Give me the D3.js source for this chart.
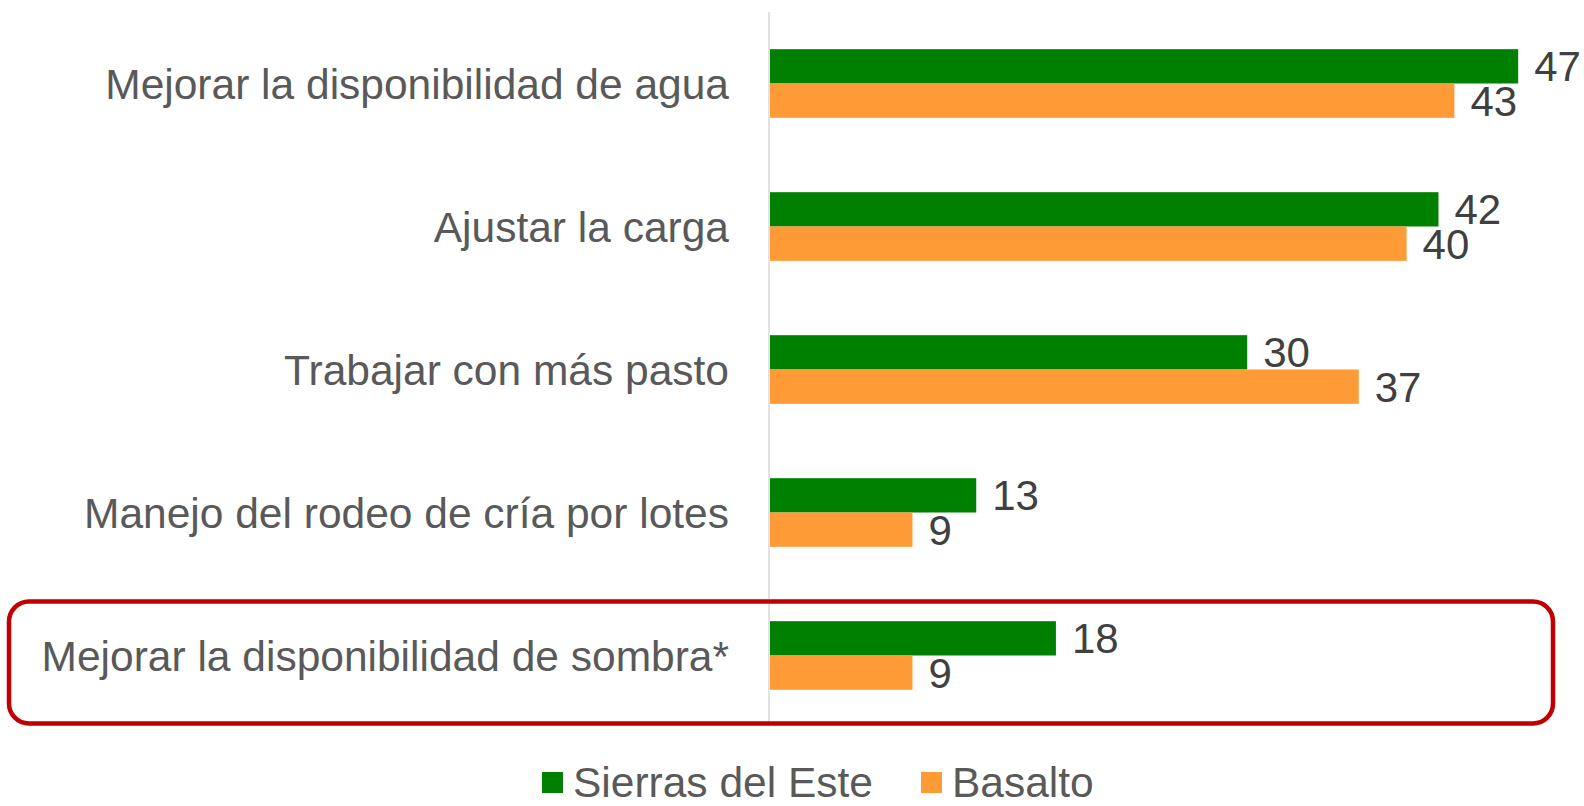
<!DOCTYPE html>
<html>
<head>
<meta charset="utf-8">
<script src="https://cdn.jsdelivr.net/npm/d3@7"></script>
<style>
  html, body { margin: 0; padding: 0; background: #fff; }
  svg { display: block; font-family: Arial, "Liberation Sans", sans-serif; }
</style>
</head>
<body>
<svg id="chart" width="1584" height="806"></svg>
<script>
const categories = [
  "Mejorar la disponibilidad de agua",
  "Ajustar la carga",
  "Trabajar con más pasto",
  "Manejo del rodeo de cría por lotes",
  "Mejorar la disponibilidad de sombra*"
];
const seriesNames = ["Sierras del Este", "Basalto"];
const sierrasValues = [47, 42, 30, 13, 18];
const basaltoValues = [43, 40, 37, 9, 9];
const colors = ["#008000", "#FF9B36"];
const highlighted = "Mejorar la disponibilidad de sombra*";

const svg = d3.select("#chart");
const FONT = 'Arial, "Liberation Sans", sans-serif';
const x0 = 769, x1 = 1566, yTop = 12, yBot = 727;

const x = d3.scaleLinear().domain([0, 50]).range([x0, x1]);
const y = d3.scaleBand().domain(categories).range([yTop, yBot])
  .paddingInner(0.52).paddingOuter(0.26);
const ySub = d3.scaleBand().domain(seriesNames).range([0, y.bandwidth()]);

const data = categories.map((c, i) => ({
  cat: c,
  vals: [
    { s: seriesNames[0], v: sierrasValues[i], c: colors[0] },
    { s: seriesNames[1], v: basaltoValues[i], c: colors[1] }
  ]
}));

// vertical axis line
svg.append("line")
  .attr("x1", x(0)).attr("x2", x(0))
  .attr("y1", yTop).attr("y2", 722)
  .attr("stroke", "#D9D9D9").attr("stroke-width", 1.5);

const g = svg.selectAll("g.cat").data(data).join("g")
  .attr("class", "cat")
  .attr("transform", d => `translate(0,${y(d.cat)})`);

g.selectAll("rect").data(d => d.vals).join("rect")
  .attr("x", x(0) + 1)
  .attr("y", d => ySub(d.s))
  .attr("width", d => x(d.v) - x(0) - 1)
  .attr("height", ySub.bandwidth())
  .attr("fill", d => d.c);

g.selectAll("text.val").data(d => d.vals).join("text")
  .attr("class", "val")
  .attr("x", d => x(d.v) + 16)
  .attr("y", d => ySub(d.s) + ySub.bandwidth() / 2)
  .attr("dy", "0.36em")
  .attr("font-family", FONT)
  .attr("font-size", 42)
  .attr("fill", "#404040")
  .text(d => d.v);

// category labels
svg.selectAll("text.cat").data(categories).join("text")
  .attr("class", "cat")
  .attr("x", 729)
  .attr("y", d => y(d) + y.bandwidth() / 2)
  .attr("dy", "0.36em")
  .attr("text-anchor", "end")
  .attr("font-family", FONT)
  .attr("font-size", 42.5)
  .attr("fill", "#595959")
  .text(d => d);

// highlight box
const hy = y(highlighted) + y.bandwidth() / 2;
svg.append("rect")
  .attr("x", 9).attr("y", hy - 54)
  .attr("width", 1544).attr("height", 122)
  .attr("rx", 20).attr("ry", 20)
  .attr("fill", "none")
  .attr("stroke", "#C00000")
  .attr("stroke-width", 4.5);

// legend
const legendX = [542, 921];
const lg = svg.selectAll("g.leg").data(seriesNames).join("g")
  .attr("class", "leg")
  .attr("transform", (d, i) => `translate(${legendX[i]},772)`);
lg.append("rect").attr("width", 21).attr("height", 21)
  .attr("fill", (d, i) => colors[i]);
lg.append("text")
  .attr("x", 31).attr("y", 10.5).attr("dy", "0.34em")
  .attr("font-family", FONT)
  .attr("font-size", 42.5)
  .attr("fill", "#595959")
  .text(d => d);
</script>
</body>
</html>
